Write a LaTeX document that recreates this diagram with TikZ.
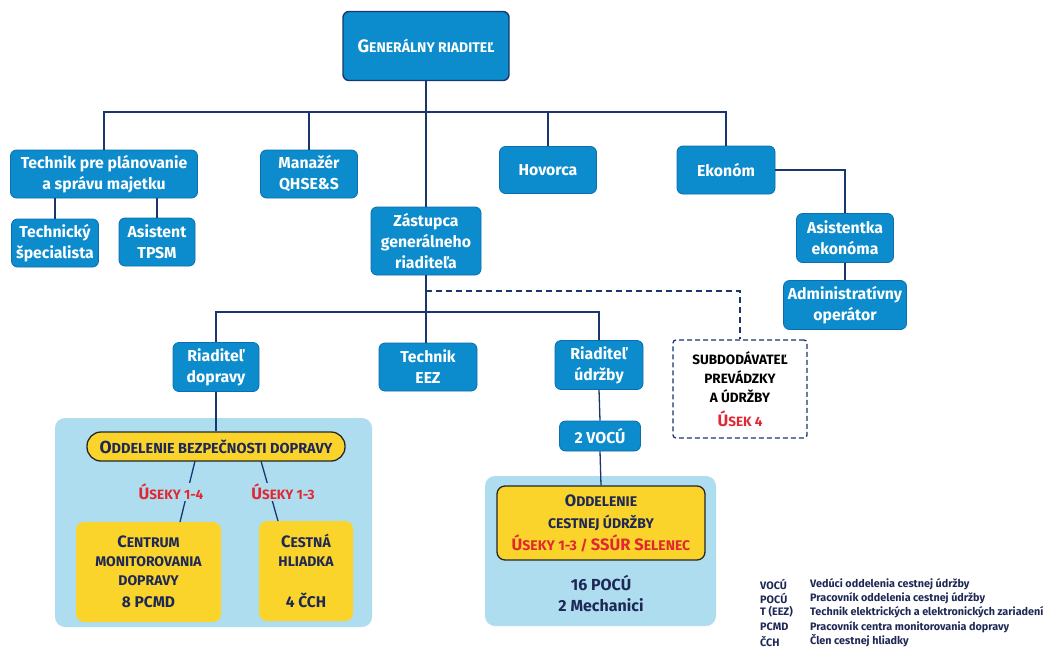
\documentclass[tikz,border=0pt]{standalone}
\usepackage{fontspec}
\setmainfont{Fira Sans}
\definecolor{bx}{RGB}{12,140,204}
\definecolor{bxd}{RGB}{10,110,175}
\definecolor{navy}{RGB}{25,55,110}
\definecolor{dtext}{RGB}{30,40,85}
\definecolor{panelc}{RGB}{175,221,240}
\definecolor{yel}{RGB}{250,212,42}
\definecolor{redc}{RGB}{225,40,50}
\newcommand\Bf{\fontsize{15.8}{21}\selectfont}
\newcommand\Lg{\fontsize{15.5}{21}\selectfont}
\newcommand\Sm{\fontsize{13.5}{16}\selectfont}
\newcommand\Cp{\fontsize{16.5}{18}\selectfont}
\begin{document}
\begin{tikzpicture}[x=1pt,y=-1pt,
  bbox/.style={draw=bxd, fill=bx, rounded corners=6pt, text=white, font=\bfseries\Bf, align=center, inner sep=1pt, line width=0.8pt},
  conn/.style={draw=navy, line width=1.3pt},
  dconn/.style={draw=navy, line width=1.3pt, dashed, dash pattern=on 6pt off 4pt},
  panel/.style={fill=panelc, draw=none, rounded corners=10pt, inner sep=0pt},
  ybox/.style={fill=yel, rounded corners=8pt, text=dtext, font=\bfseries\Sm, align=center, inner sep=1pt},
  lab/.style={text=redc, font=\bfseries\Sm, inner sep=1pt, fill=panelc},
  leg/.style={text=dtext, font=\bfseries\fontsize{10.8}{13}\selectfont, anchor=west, inner sep=0pt}
]
\useasboundingbox (0,0) rectangle (1051,648);
% panels
\node[panel, minimum width=317, minimum height=209] (p1) at (213.5,522.5) {};
\node[panel, minimum width=231, minimum height=150] (p2) at (600.5,551) {};

% top level
\node[bbox, minimum width=166, minimum height=69, draw=navy, line width=1.4pt] (gr) at (426,46)
  {{\fontsize{18}{20}\selectfont G}{\fontsize{14}{16}\selectfont ENERÁLNY RIADITEĽ}};
\node[bbox, minimum width=187, minimum height=48] (tp) at (104,174) {Technik pre plánovanie\\a správu majetku};
\node[bbox, minimum width=97, minimum height=48] (qh) at (309,174) {Manažér\\QHSE\&S};
\node[bbox, minimum width=97, minimum height=47] (ho) at (548,170) {Hovorca};
\node[bbox, minimum width=98, minimum height=48] (ek) at (726,170) {Ekonóm};
\node[bbox, minimum width=87, minimum height=48] (ts) at (55,243) {Technický\\špecialista};
\node[bbox, minimum width=76, minimum height=48] (at) at (157,242) {Asistent\\TPSM};
\node[bbox, minimum width=110, minimum height=68] (zas) at (426,241) {Zástupca\\generálneho\\riaditeľa};
\node[bbox, minimum width=97, minimum height=49] (ae) at (845,238) {Asistentka\\ekonóma};
\node[bbox, minimum width=123, minimum height=49] (ao) at (845,305) {Administratívny\\operátor};

\node[bbox, minimum width=86, minimum height=49] (rd) at (216,367) {Riaditeľ\\dopravy};
\node[bbox, minimum width=98, minimum height=48] (te) at (428,367) {Technik\\EEZ};
\node[bbox, minimum width=88, minimum height=49] (ru) at (599,365) {Riaditeľ\\údržby};
\node[bbox, minimum width=81, minimum height=30] (vo) at (600,436) {2 VOCÚ};

\node[draw=navy, dashed, dash pattern=on 5pt off 3pt, line width=1.3pt, fill=white, rounded corners=3pt,
  minimum width=134, minimum height=98, align=center, font=\bfseries\fontsize{13.5}{19}\selectfont, text=black] (sub) at (740,389)
  {SUBDODÁVATEĽ\\PREVÁDZKY\\A ÚDRŽBY\\[5pt]{\color{redc}{\Cp Ú}SEK 4}};

% yellow boxes
\node[ybox, draw=black!85, line width=1.3pt, rounded corners=14pt, minimum width=258, minimum height=29, font=\bfseries\fontsize{14.5}{17}\selectfont] (obd) at (216,446.5)
  {{\fontsize{17.5}{19}\selectfont O}DDELENIE BEZPEČNOSTI DOPRAVY};
\node[ybox, minimum width=145, minimum height=100, font=\bfseries\fontsize{14}{19}\selectfont] (cm) at (148.5,572)
  {{\Cp C}ENTRUM\\MONITOROVANIA\\DOPRAVY\\[3pt]{\Lg 8 PCMD}};
\node[ybox, minimum width=94, minimum height=100, font=\bfseries\fontsize{14}{19}\selectfont] (ch) at (306,571)
  {{\Cp C}ESTNÁ\\HLIADKA\\[22pt]{\Lg 4 ČCH}};
\node[ybox, draw=black!85, line width=1.3pt, minimum width=208, minimum height=74, font=\bfseries\fontsize{14}{22}\selectfont] (ocu) at (601,523)
  {{\Cp O}DDELENIE\\CESTNEJ ÚDRŽBY\\{\color{redc}{\Cp Ú}SEKY 1-3 / {\Cp SSÚR S}ELENEC}};
\node[text=dtext, font=\bfseries\fontsize{16}{21}\selectfont, align=center, inner sep=0pt] (pocu) at (601,593) {16 POCÚ\\2 Mechanici};

% connectors
\coordinate (bus1) at (426,112);
\coordinate (bus2) at (426,312);
\coordinate (dz) at (426,291);
\draw[conn] (gr.south) -- (zas.north);
\draw[conn] (bus1) -| (tp.north);
\draw[conn] (bus1) -| (qh.north);
\draw[conn] (bus1) -| (ho.north);
\draw[conn] (bus1) -| (ek.north);
\draw[conn] (ts.north) -- (ts.north |- tp.south);
\draw[conn] (at.north) -- (at.north |- tp.south);
\draw[conn] (ek.east) -| (ae.north);
\draw[conn] (ae.south) -- (ao.north);
\draw[conn] (zas.south) -- (bus2);
\draw[conn] (bus2) -| (rd.north);
\draw[conn] (bus2) -| (ru.north);
\draw[conn] (te.north -| bus2) -- (bus2);
\draw[dconn] (dz) -| (sub.north);
\draw[conn] (rd.south) -- (obd.north);
\draw[conn] (ru.south) -- (vo.north);
\draw[conn] (vo.south) -- (ocu.north);
\coordinate (o1) at (195,461);
\coordinate (o2) at (261,461);
\coordinate (c1) at (180,522);
\coordinate (c2) at (278,521);
\draw[conn] (o1) -- (c1);
\draw[conn] (o2) -- (c2);
\node[lab] (u14) at (171,492) {{\Cp Ú}SEKY 1-4};
\node[lab] (u13) at (283,492) {{\Cp Ú}SEKY 1-3};

% legend
\node[leg] (l1a) at (760,584) {VOCÚ};
\node[leg] (l2a) at (760,598) {POCÚ};
\node[leg] (l3a) at (760,612) {T (EEZ)};
\node[leg] (l4a) at (760,627) {PCMD};
\node[leg] (l5a) at (760,641) {ČCH};
\node[leg] (l1b) at (810,584) {Vedúci oddelenia cestnej údržby};
\node[leg] (l2b) at (810,598) {Pracovník oddelenia cestnej údržby};
\node[leg] (l3b) at (810,612) {Technik elektrických a elektronických zariadení};
\node[leg] (l4b) at (810,627) {Pracovník centra monitorovania dopravy};
\node[leg] (l5b) at (810,641) {Člen cestnej hliadky};
\end{tikzpicture}
\end{document}
